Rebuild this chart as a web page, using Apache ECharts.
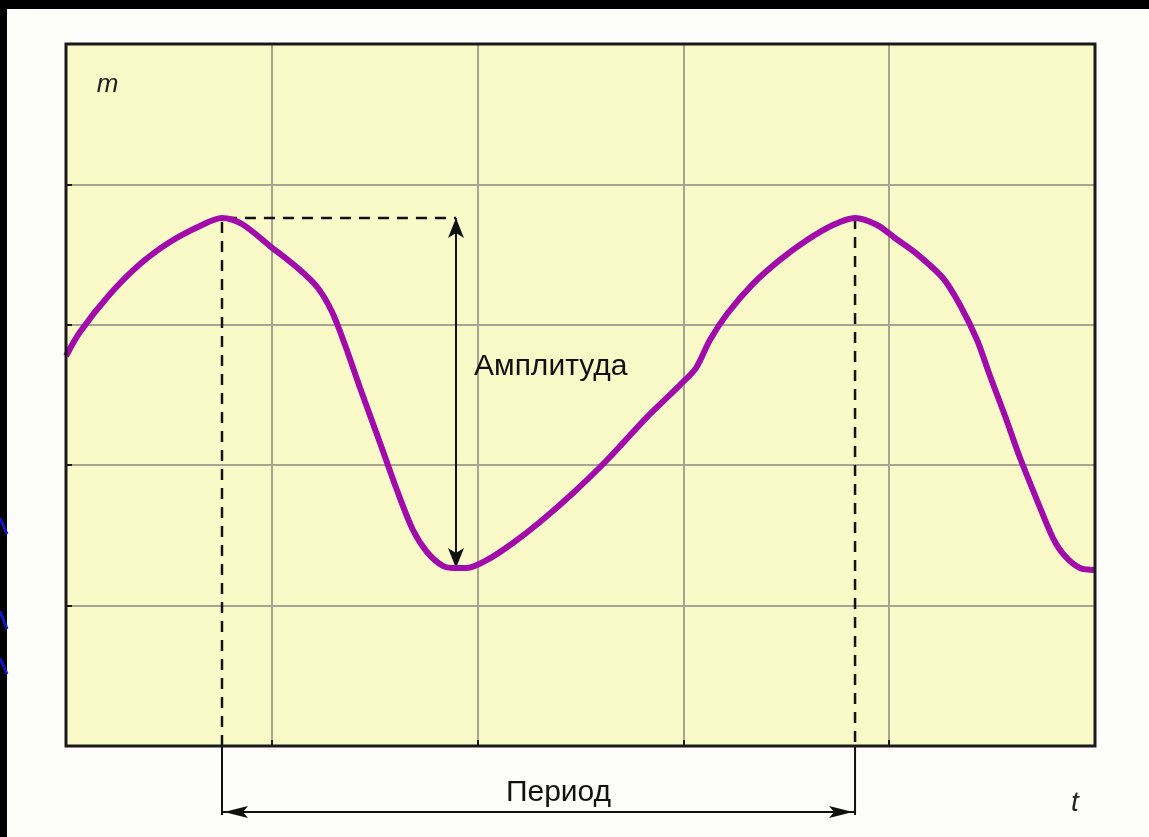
<!DOCTYPE html>
<html>
<head>
<meta charset="utf-8">
<script src="https://cdn.jsdelivr.net/npm/echarts@6/dist/echarts.min.js"></script>
<style>
  html, body { margin: 0; padding: 0; background: #000; }
  #main { width: 1149px; height: 837px; }
</style>
</head>
<body>
<div id="main"></div>
<script>
// curve: t and m in grid cells (0..5)
var tValues = [0, 0.068, 0.214, 0.360, 0.505, 0.651, 0.758, 0.855, 0.991, 1.137, 1.224, 1.293,
  1.356, 1.429, 1.526, 1.608, 1.686, 1.754, 1.832, 1.890, 1.948, 2.046, 2.172, 2.303, 2.464,
  2.629, 2.823, 2.983, 3.061, 3.129, 3.212, 3.338, 3.469, 3.601, 3.727, 3.834, 3.941, 4.028,
  4.135, 4.261, 4.344, 4.427, 4.490, 4.563, 4.636, 4.718, 4.796, 4.854, 4.927, 5.0];
var mValues = [2.778, 2.949, 3.219, 3.433, 3.590, 3.704, 3.761, 3.718, 3.561, 3.390, 3.262, 3.091,
  2.856, 2.550, 2.158, 1.823, 1.538, 1.382, 1.282, 1.268, 1.268, 1.325, 1.446, 1.595, 1.802,
  2.037, 2.343, 2.571, 2.692, 2.892, 3.077, 3.291, 3.462, 3.604, 3.711, 3.761, 3.711, 3.618,
  3.504, 3.333, 3.141, 2.892, 2.635, 2.350, 2.051, 1.752, 1.481, 1.353, 1.268, 1.254];

// annotation anchors
var peakT = [0.758, 3.834];
var peakM = 3.761;
var troughT = 1.895;
var troughM = 1.268;

var labelAmp = 'Амплитуда';
var labelPeriod = 'Период';
var labelM = 'm';
var labelT = 't';

var curve = tValues.map(function (t, i) { return [t, mValues[i]]; });

var chart = echarts.init(document.getElementById('main'));

var splitStyle = { show: true, showMinLine: false, showMaxLine: false, lineStyle: { color: '#a5a592', width: 2 } };
var tickStyle = { show: true, inside: true, length: 6, lineStyle: { color: '#1a1a1a', width: 2 } };

var option = {
  backgroundColor: '#fdfdfb',
  animation: false,
  grid: {
    left: 66, top: 44, right: 54, bottom: 91,
    show: true,
    backgroundColor: '#fafac8',
    borderWidth: 0
  },
  xAxis: {
    type: 'value', min: 0, max: 5, interval: 1,
    axisLine: { show: false },
    axisLabel: { show: false },
    axisTick: tickStyle,
    splitLine: splitStyle
  },
  yAxis: {
    type: 'value', min: 0, max: 5, interval: 1,
    axisLine: { show: false },
    axisLabel: { show: false },
    axisTick: tickStyle,
    splitLine: splitStyle
  },
  series: [
    {
      // dashed guide: first peak down to axis and across to amplitude arrow
      type: 'line',
      data: [[peakT[0], 0], [peakT[0], peakM], [troughT, peakM]],
      showSymbol: false,
      lineStyle: { color: '#111', width: 2.5, type: [11, 8] },
      z: 3
    },
    {
      type: 'line',
      data: [[peakT[1], peakM], [peakT[1], 0]],
      showSymbol: false,
      lineStyle: { color: '#111', width: 2.5, type: [11, 8] },
      z: 3,
      markLine: {
        silent: true,
        symbol: ['arrow', 'arrow'],
        symbolSize: [12, 20],
        label: { show: false },
        lineStyle: { color: '#111', width: 2, type: 'solid' },
        data: [[{ coord: [troughT, peakM] }, { coord: [troughT, troughM] }]]
      }
    },
    {
      type: 'line',
      data: curve,
      smooth: 0.3,
      showSymbol: false,
      lineStyle: { color: '#a20aaa', width: 6 },
      z: 5
    }
  ]
};

chart.setOption(option);

// annotation placed from the axis scales
var tl = chart.convertToPixel({ gridIndex: 0 }, [0, 5]);
var br = chart.convertToPixel({ gridIndex: 0 }, [5, 0]);
var a = chart.convertToPixel({ gridIndex: 0 }, [peakT[0], 0]);
var b = chart.convertToPixel({ gridIndex: 0 }, [peakT[1], 0]);
var amp = chart.convertToPixel({ gridIndex: 0 }, [troughT, 2.7]);
var mPos = chart.convertToPixel({ gridIndex: 0 }, [0.15, 4.71]);
var arrowY = a[1] + 66;

chart.setOption({
  graphic: [
    // black slide frame
    { type: 'rect', shape: { x: 0, y: 0, width: 1149, height: 9 }, style: { fill: '#000' } },
    { type: 'rect', shape: { x: 0, y: 0, width: 7, height: 837 }, style: { fill: '#000' } },
    { type: 'line', shape: { x1: 0, y1: 518, x2: 7, y2: 534 }, style: { stroke: '#1414c8', lineWidth: 3 } },
    { type: 'line', shape: { x1: 0, y1: 611, x2: 7, y2: 629 }, style: { stroke: '#1414c8', lineWidth: 3 } },
    { type: 'line', shape: { x1: 0, y1: 658, x2: 7, y2: 674 }, style: { stroke: '#1414c8', lineWidth: 3 } },
    // plot frame
    {
      type: 'rect', z: 100,
      shape: { x: tl[0], y: tl[1], width: br[0] - tl[0], height: br[1] - tl[1] },
      style: { fill: 'none', stroke: '#1a1a1a', lineWidth: 3 }
    },
    // period bracket
    { type: 'line', shape: { x1: a[0], y1: a[1], x2: a[0], y2: arrowY + 3 }, style: { stroke: '#111', lineWidth: 2 } },
    { type: 'line', shape: { x1: b[0], y1: b[1], x2: b[0], y2: arrowY + 3 }, style: { stroke: '#111', lineWidth: 2 } },
    { type: 'line', shape: { x1: a[0], y1: arrowY, x2: b[0], y2: arrowY }, style: { stroke: '#111', lineWidth: 2 } },
    { type: 'polygon', shape: { points: [[a[0] + 2, arrowY], [a[0] + 26, arrowY - 6], [a[0] + 21, arrowY], [a[0] + 26, arrowY + 6]] }, style: { fill: '#111' } },
    { type: 'polygon', shape: { points: [[b[0] - 2, arrowY], [b[0] - 26, arrowY - 6], [b[0] - 21, arrowY], [b[0] - 26, arrowY + 6]] }, style: { fill: '#111' } },
    {
      type: 'text', x: (a[0] + b[0]) / 2 + 20, y: arrowY - 19,
      style: { text: labelPeriod, fill: '#111', font: '30px "Liberation Sans", Arial, sans-serif', align: 'center', verticalAlign: 'middle' }
    },
    {
      type: 'text', x: amp[0] + 18, y: amp[1],
      style: { text: labelAmp, fill: '#111', font: '30px "Liberation Sans", Arial, sans-serif', align: 'left', verticalAlign: 'middle' }
    },
    {
      type: 'text', x: mPos[0], y: mPos[1],
      style: { text: labelM, fill: '#222', font: 'italic 26px "Liberation Sans", Arial, sans-serif', align: 'left', verticalAlign: 'middle' }
    },
    {
      type: 'text', x: 1075, y: arrowY - 9,
      style: { text: labelT, fill: '#222', font: 'italic 28px "Liberation Sans", Arial, sans-serif', align: 'center', verticalAlign: 'middle' }
    }
  ]
});
</script>
</body>
</html>
